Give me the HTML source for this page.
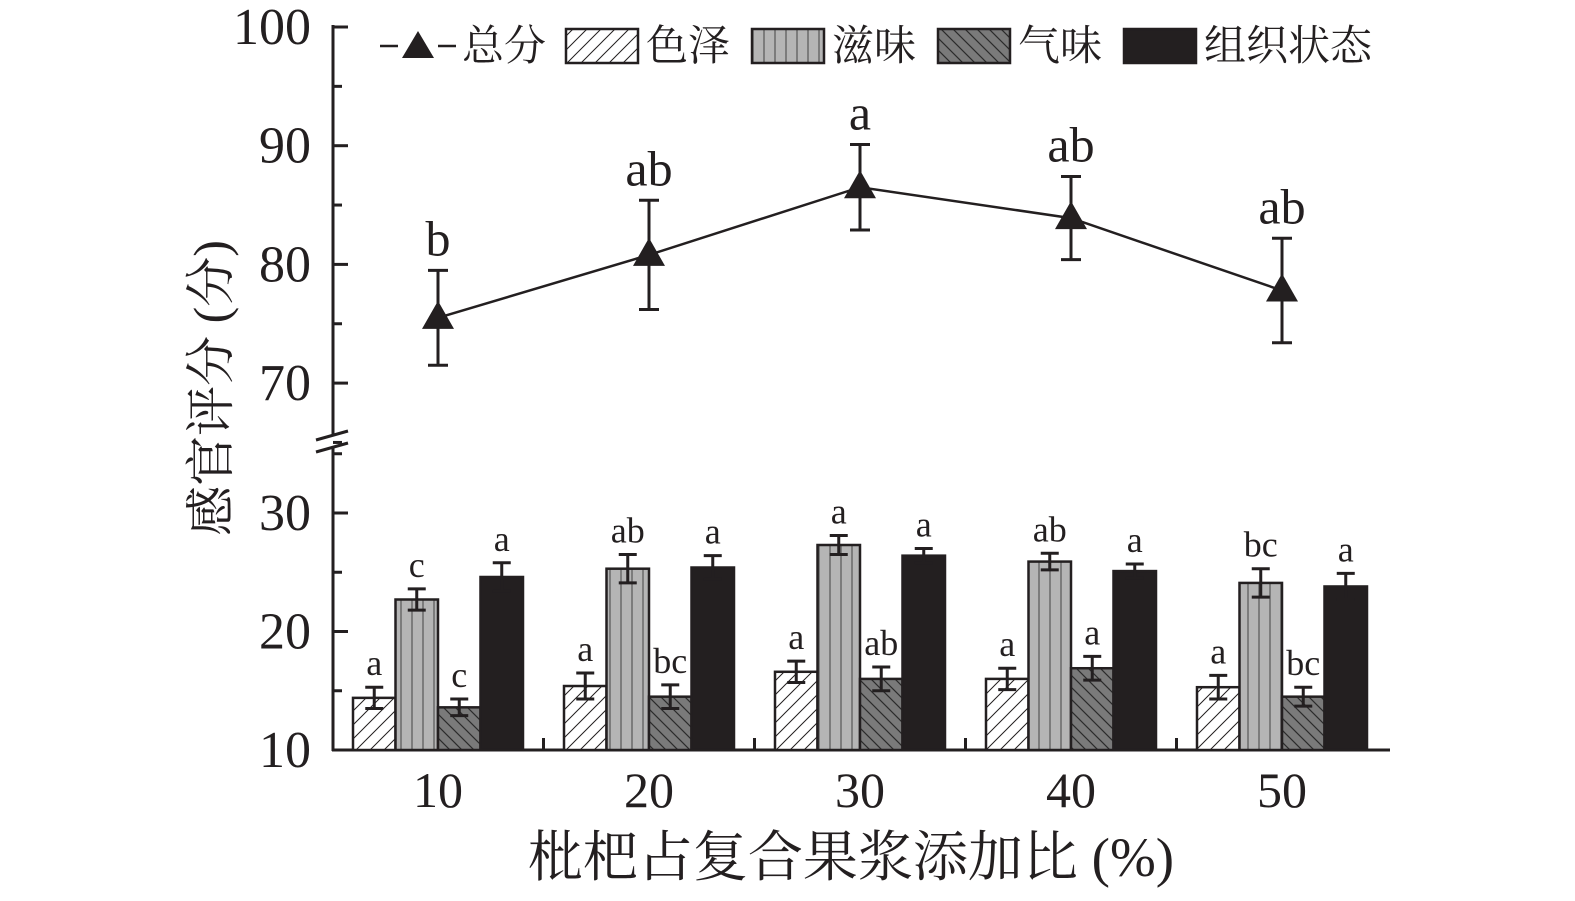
<!DOCTYPE html>
<html><head><meta charset="utf-8"><style>
html,body{margin:0;padding:0;background:#fff;}
svg text{font-family:"Liberation Serif","Noto Serif CJK SC",serif;fill:#231f20;}
</style></head><body>
<svg id="chart" width="1575" height="896" viewBox="0 0 1575 896" xmlns="http://www.w3.org/2000/svg">
<defs>
<pattern id="pHatch" patternUnits="userSpaceOnUse" width="14" height="14">
<rect width="14" height="14" fill="#fff"/><path d="M-2,16 L16,-2 M-16,16 L2,-2 M12,16 L30,-2" stroke="#231f20" stroke-width="1"/></pattern>
<pattern id="pVert" patternUnits="userSpaceOnUse" width="11" height="10">
<rect width="11" height="10" fill="#b5b5b5"/><line x1="5" y1="0" x2="5" y2="10" stroke="#555" stroke-width="1.2"/></pattern>
<pattern id="pBack" patternUnits="userSpaceOnUse" width="12" height="12">
<rect width="12" height="12" fill="#7a7a7a"/><path d="M-2,-2 L14,14 M-14,-2 L2,14 M10,-2 L26,14" stroke="#2a2a2a" stroke-width="1.2"/></pattern>
</defs>
<g id="plot"></g>
</svg>
<script>
const categories=["10","20","30","40","50"];
const totalVals=[75.5,80.8,86.5,83.9,77.8];
const totalErr=[4.0,4.6,3.6,3.5,4.4];
const totalLabels=["b","ab","a","ab","ab"];
const colorVals=[14.4,15.4,16.6,16.0,15.3];
const colorErr=[0.9,1.1,0.9,0.9,1.0];
const colorLabels=["a","a","a","a","a"];
const tasteVals=[22.7,25.3,27.3,25.9,24.1];
const tasteErr=[0.9,1.2,0.8,0.7,1.2];
const tasteLabels=["c","ab","a","ab","bc"];
const odorVals=[13.6,14.5,16.0,16.9,14.5];
const odorErr=[0.7,1.0,1.0,1.0,0.8];
const odorLabels=["c","bc","ab","a","bc"];
const textureVals=[24.6,25.4,26.4,25.1,23.8];
const textureErr=[1.2,1.0,0.6,0.6,1.1];
const textureLabels=["a","a","a","a","a"];
const upperTicks=[70,80,90,100];
const lowerTicks=[10,20,30];

const NS="http://www.w3.org/2000/svg";
const g=document.getElementById('plot');
function el(t,a,txt){const e=document.createElementNS(NS,t);for(const k in a)e.setAttribute(k,a[k]);if(txt!==undefined)e.textContent=txt;g.appendChild(e);return e;}
const X0=333, XEND=1390, YB=750;
const yU=v=>27+(100-v)*11.87;
const yL=v=>YB-(v-10)*11.85;
const xC=i=>438+i*211;
const K="#231f20";

let a=el('line',{x1:X0,y1:25,x2:X0,y2:434,stroke:K,'stroke-width':3});

a=el('line',{x1:X0,y1:448,x2:X0,y2:YB+1,stroke:K,'stroke-width':3});

a=el('path',{d:"M316,440 L348,431 M316,452 L348,443",stroke:K,'stroke-width':3,fill:'none'});

a=el('line',{x1:X0-1,y1:YB,x2:XEND,y2:YB,stroke:K,'stroke-width':3});

upperTicks.forEach(v=>{
 const t=el('line',{x1:X0,y1:yU(v),x2:X0+15,y2:yU(v),stroke:K,'stroke-width':3});
 
 if(v!==100)el('line',{x1:X0,y1:yU(v+5),x2:X0+9,y2:yU(v+5),stroke:K,'stroke-width':3});
 const l=el('text',{x:X0-22,y:yU(v)+17,'text-anchor':'end','font-size':52},v);
 
});
el('line',{x1:X0,y1:yU(65),x2:X0+9,y2:yU(65),stroke:K,'stroke-width':3});
lowerTicks.forEach(v=>{
 const t=el('line',{x1:X0,y1:yL(v),x2:X0+15,y2:yL(v),stroke:K,'stroke-width':3});
 
 el('line',{x1:X0,y1:yL(v+5),x2:X0+9,y2:yL(v+5),stroke:K,'stroke-width':3});
 const l=el('text',{x:X0-22,y:yL(v)+17,'text-anchor':'end','font-size':52},v);
 
});
categories.forEach((c,i)=>{
 if(i<categories.length-1){const t=el('line',{x1:xC(i)+105.5,y1:YB,x2:xC(i)+105.5,y2:YB-12,stroke:K,'stroke-width':3});
 }
 const l=el('text',{x:xC(i),y:YB+57,'text-anchor':'middle','font-size':50},c);
 
});
const series=[[colorVals,colorErr,colorLabels,'url(#pHatch)','bar-color'],[tasteVals,tasteErr,tasteLabels,'url(#pVert)','bar-taste'],[odorVals,odorErr,odorLabels,'url(#pBack)','bar-odor'],[textureVals,textureErr,textureLabels,K,'bar-texture']];
const BW=42.5;
series.forEach((s,si)=>{
 s[0].forEach((v,i)=>{
  const x=xC(i)-2*BW+si*BW;
  const b=el('rect',{x:x,y:yL(v),width:BW,height:YB-yL(v),fill:s[3],stroke:K,'stroke-width':2.5});
  
  const cx=x+BW/2,t=yL(v+s[1][i]),bt=yL(v-s[1][i]);
  const e=el('path',{d:`M${cx},${t}V${bt}M${cx-9},${t}H${cx+9}M${cx-9},${bt}H${cx+9}`,stroke:K,'stroke-width':3,fill:'none'});
  
  const l=el('text',{x:cx,y:t-12,'text-anchor':'middle','font-size':36},s[2][i]);
  
 });
});
const ln=el('polyline',{points:totalVals.map((v,i)=>xC(i)+','+yU(v)).join(' '),fill:'none',stroke:K,'stroke-width':2.5});

totalVals.forEach((v,i)=>{
 const cx=xC(i),t=yU(v+totalErr[i]),bt=yU(v-totalErr[i]);
 const e=el('path',{d:`M${cx},${t}V${bt}M${cx-10},${t}H${cx+10}M${cx-10},${bt}H${cx+10}`,stroke:K,'stroke-width':3,fill:'none'});
 
 const y=yU(v);
 const m=el('polygon',{points:`${cx},${y-17} ${cx-16},${y+11} ${cx+16},${y+11}`,fill:K});
 
 const l=el('text',{x:cx,y:t-15,'text-anchor':'middle','font-size':50},totalLabels[i]);
 
});
let lg=el('path',{d:"M380,46 H398 M438,46 H456",stroke:K,'stroke-width':2.5});

el('polygon',{points:"418,31 402,58 434,58",fill:K});
el('text',{x:462,y:60,'font-size':42},'总分');
const leg=[[566,'url(#pHatch)','色泽'],[752,'url(#pVert)','滋味'],[938,'url(#pBack)','气味'],[1124,K,'组织状态']];
leg.forEach(d=>{
 const r=el('rect',{x:d[0],y:29,width:72,height:34,fill:d[1],stroke:K,'stroke-width':2.5});
 
 const t=el('text',{x:d[0]+80,y:60,'font-size':42},d[2]);
 
});
let yt=el('text',{x:0,y:0,'font-size':50,'text-anchor':'middle',transform:'translate(228,388) rotate(-90)'},'感官评分 (分)');

let xt=el('text',{x:851,y:876,'font-size':55,'text-anchor':'middle'},'枇杷占复合果浆添加比 (%)');

</script>
</body></html>
